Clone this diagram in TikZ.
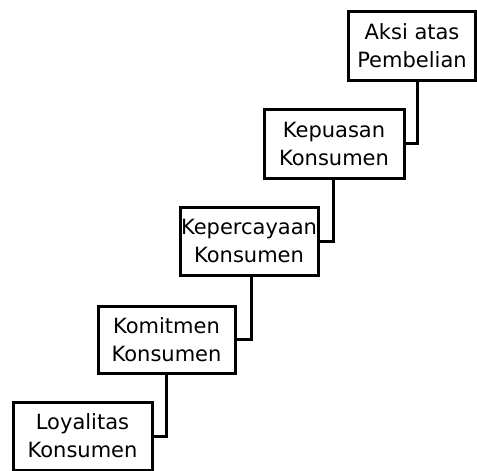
\documentclass[tikz,border=0pt]{standalone}
\usepackage{fontspec}
\setmainfont{DejaVu Sans}
\begin{document}
\begin{tikzpicture}[x=1pt,y=-1pt,
  stepbox/.style={draw=black, line width=3pt, fill=white, inner sep=0pt,
    align=center, font=\fontsize{21}{28}\selectfont, text=black},
  link/.style={draw=black, line width=3pt}]
\useasboundingbox (0,0) rectangle (477,471);
\node[stepbox, minimum width=127pt, minimum height=69pt] (b1) at (412,46) {Aksi atas\\Pembelian};
\node[stepbox, minimum width=140pt, minimum height=69pt] (b2) at (334,143.5) {Kepuasan\\Konsumen};
\node[stepbox, minimum width=138pt, minimum height=68pt] (b3) at (249,241) {Kepercayaan\\Konsumen};
\node[stepbox, minimum width=137pt, minimum height=67pt] (b4) at (166.5,339.5) {Komitmen\\Konsumen};
\node[stepbox, minimum width=139pt, minimum height=68pt] (b5) at (82.5,436) {Loyalitas\\Konsumen};
\draw[link] ([xshift=5pt]b1.south) |- (b2.east);
\draw[link] ([xshift=-1pt]b2.south) |- (b3.east);
\draw[link] ([xshift=2pt]b3.south) |- (b4.east);
\draw[link] (b4.south) |- (b5.east);
\end{tikzpicture}
\end{document}
